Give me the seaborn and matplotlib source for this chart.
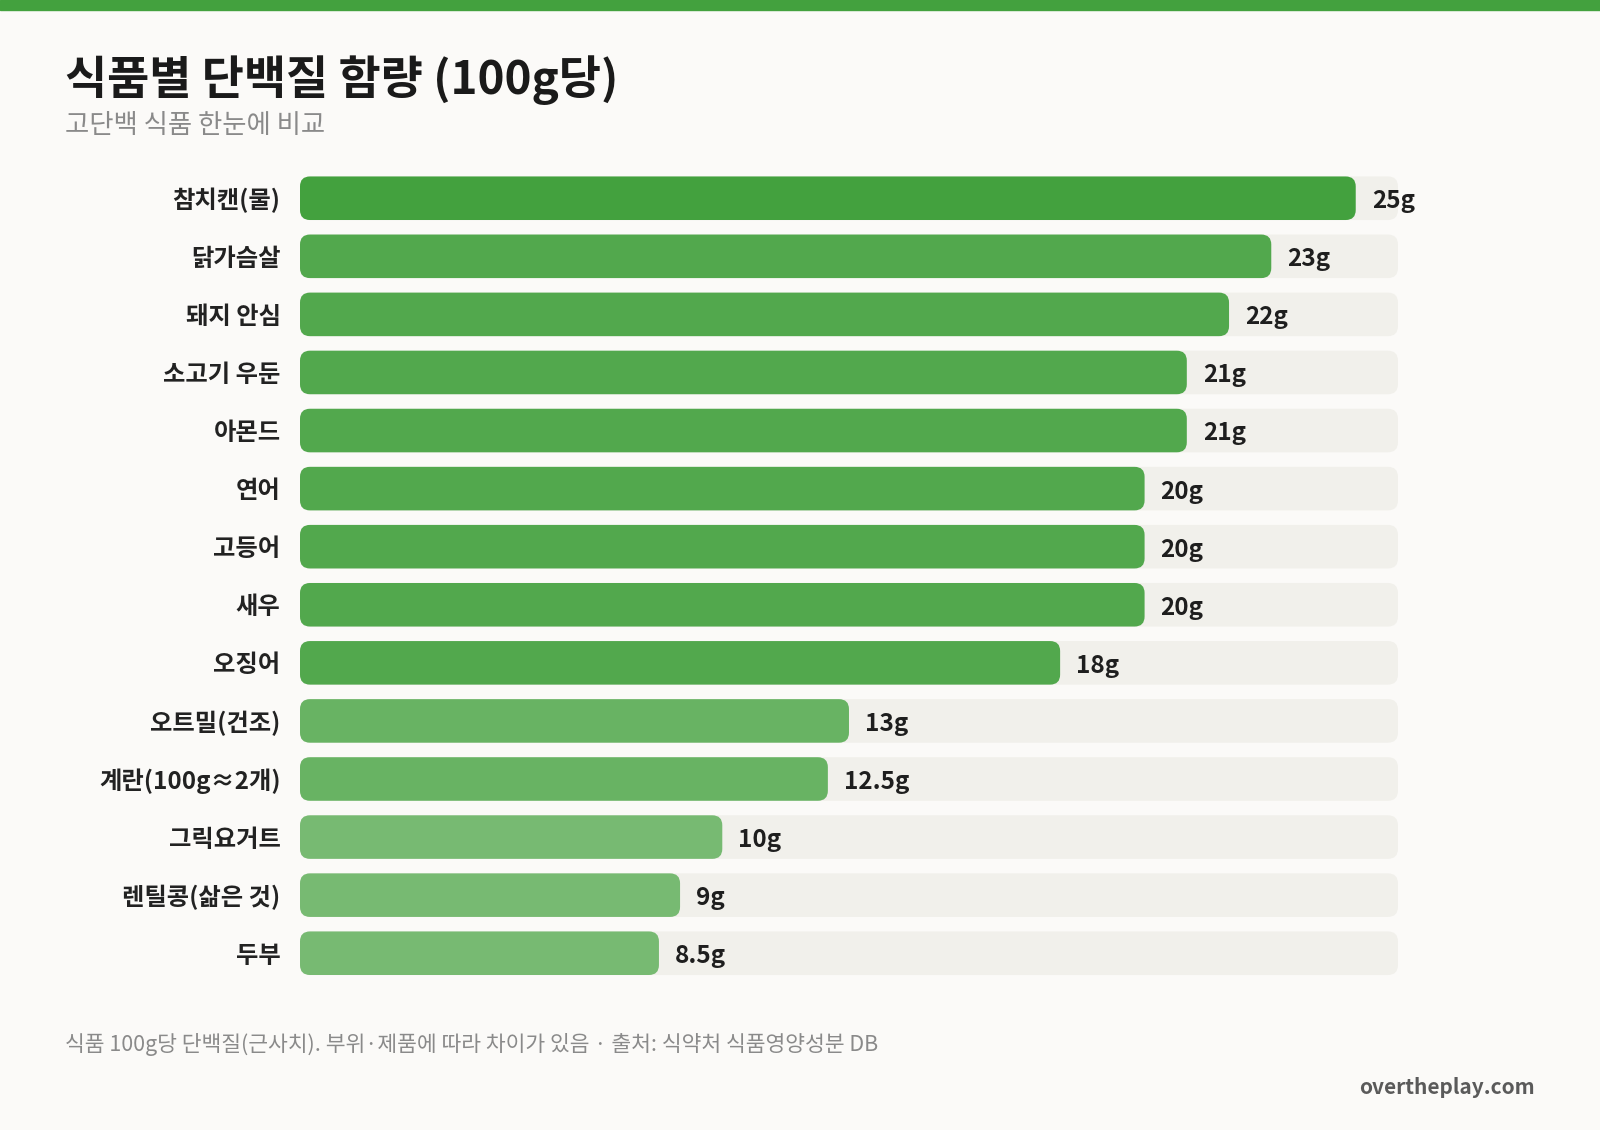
import seaborn as sns
import pandas as pd
import matplotlib.pyplot as plt
from matplotlib.patches import FancyBboxPatch, Rectangle

# 데이터
foods = ['참치캔(물)', '닭가슴살', '돼지 안심', '소고기 우둔', '아몬드', '연어', '고등어',
         '새우', '오징어', '오트밀(건조)', '계란(100g≈2개)', '그릭요거트', '렌틸콩(삶은 것)', '두부']
protein = [25, 23, 22, 21, 21, 20, 20, 20, 18, 13, 12.5, 10, 9, 8.5]

title = '식품별 단백질 함량 (100g당)'
subtitle = '고단백 식품 한눈에 비교'
footnote = '식품 100g당 단백질(근사치). 부위·제품에 따라 차이가 있음 · 출처: 식약처 식품영양성분 DB'
brand = 'overtheplay.com'

BG = '#fbfaf8'
TRACK = '#f1f0eb'
GREEN = '#43a13e'

sns.set_theme(style='white')
plt.rcParams['font.family'] = ['Noto Sans CJK KR', 'DejaVu Sans']
plt.rcParams['axes.unicode_minus'] = False


def bar_color(v):
    # 값 구간별로 진하기 다르게
    if v >= 24:
        a = 1.0
    elif v >= 15:
        a = 0.92
    elif v >= 12:
        a = 0.80
    else:
        a = 0.72
    g = tuple(int(GREEN[i:i + 2], 16) / 255 for i in (1, 3, 5))
    b = tuple(int(BG[i:i + 2], 16) / 255 for i in (1, 3, 5))
    return tuple(a * gc + (1 - a) * bc for gc, bc in zip(g, b))


track_max = max(protein) * 1.04
df = pd.DataFrame({'food': foods, 'protein': protein, 'track': [track_max] * len(foods)})
palette = {f: bar_color(v) for f, v in zip(foods, protein)}

W, H = 1568, 1106  # 기준 픽셀 좌표
fig = plt.figure(figsize=(16, 11.3), dpi=100, facecolor=BG)
fig.patches.append(Rectangle((0, 1 - 10 / H), 1, 10 / H, transform=fig.transFigure,
                             color=GREEN, zorder=0))

left, right = 294 / W, 1370 / W
top, bottom = 1 - 165.6 / H, 1 - 961.4 / H
ax = fig.add_axes([left, bottom, right - left, top - bottom])
ax.set_facecolor(BG)

sns.barplot(data=df, x='track', y='food', color=TRACK, width=0.75, saturation=1, ax=ax)
n_track = len(ax.patches)
sns.barplot(data=df, x='protein', y='food', hue='food', palette=palette,
            legend=False, width=0.75, saturation=1, ax=ax)

ax.set_xlim(0, track_max)
ax.set_ylim(len(foods) - 0.5, -0.5)

# 둥근 모서리로 바꾸기
fig.canvas.draw()
bbox = ax.get_window_extent()
px_x = bbox.width / track_max
px_y = bbox.height / len(foods)
r_px = 10
rx = r_px / px_x
aspect = (r_px / px_y) / rx

patches = list(ax.patches)
for i, p in enumerate(patches):
    x, y, w, h = p.get_x(), p.get_y(), p.get_width(), p.get_height()
    fc = p.get_facecolor()
    p.remove()
    ax.add_patch(FancyBboxPatch((x, y), w, h,
                                boxstyle=f'round,pad=0,rounding_size={rx}',
                                mutation_aspect=aspect, facecolor=fc,
                                edgecolor='none', zorder=1 if i < n_track else 2))

# 값 라벨
for i, v in enumerate(protein):
    ax.text(v + 16 / px_x, i + 0.05, f'{v:g}g', va='center', ha='left', fontsize=17.5,
            fontweight='bold', color='#1e1e1e', zorder=3)

ax.set_xlabel('')
ax.set_ylabel('')
ax.set_xticks([])
ax.tick_params(axis='y', length=0, pad=14)
ax.set_yticks(range(len(foods)))
ax.set_yticklabels(foods, fontsize=17.5, fontweight='bold', color='#222222')
sns.despine(ax=ax, left=True, bottom=True)

fig.text(64 / W, 1 - 92 / H, title, fontsize=33, fontweight='bold', color='#1a1a1a',
         va='baseline', ha='left')
fig.text(64 / W, 1 - 130 / H, subtitle, fontsize=19, color='#8a8a8a', va='baseline', ha='left')
fig.text(64 / W, 1 - 1029 / H, footnote, fontsize=15.5, color='#8a8a8a', va='baseline', ha='left')
fig.text(1504 / W, 1 - 1071 / H, brand, fontsize=15, fontweight='bold', color='#5a5a5a',
         va='baseline', ha='right')

fig.savefig('out.png', dpi=100, facecolor=BG)
